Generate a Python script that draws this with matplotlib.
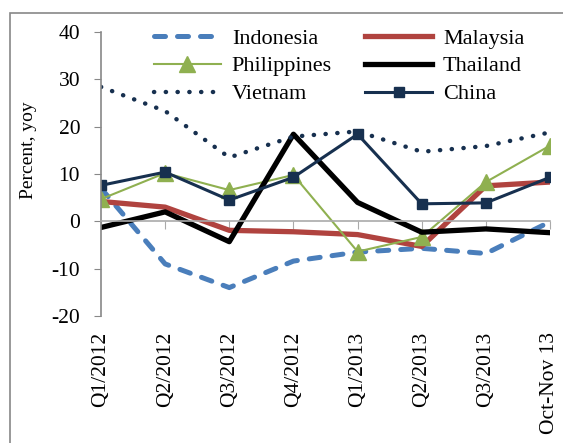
import matplotlib
matplotlib.use("Agg")
import matplotlib.pyplot as plt
from matplotlib.patches import Rectangle

categories = ["Q1/2012", "Q2/2012", "Q3/2012", "Q4/2012", "Q1/2013", "Q2/2013", "Q3/2013", "Oct-Nov 13"]
indonesia = [7.0, -9.0, -14.0, -8.4, -6.5, -5.7, -6.8, -0.1]
malaysia = [4.2, 3.0, -1.9, -2.2, -2.8, -5.3, 7.5, 8.3]
philippines = [4.7, 10.2, 6.6, 9.8, -6.4, -3.3, 8.3, 16.0]
thailand = [-1.3, 2.0, -4.3, 18.4, 4.0, -2.3, -1.6, -2.4]
vietnam = [28.4, 23.3, 13.5, 17.9, 19.0, 14.7, 15.9, 18.8]
china = [7.6, 10.4, 4.5, 9.3, 18.4, 3.7, 3.9, 9.3]
yticks = [-20, -10, 0, 10, 20, 30, 40]

plt.rcParams['font.family'] = ['Liberation Serif', 'DejaVu Serif']
plt.rcParams['axes.unicode_minus'] = False

W, H = 563, 443
fig = plt.figure(figsize=(W / 100, H / 100), dpi=100)
ax = fig.add_axes([101 / W, 1 - 316 / H, (550 - 101) / W, (316 - 32) / H])

# chart area border
fig.patches.append(Rectangle((10 / W, -0.1), 1.2, 1 - 13 / H + 0.1, transform=fig.transFigure,
                             fill=False, edgecolor='#888888', linewidth=1.2))

x = list(range(len(categories)))
ax.plot(x, indonesia, color='#4a7ebb', lw=3.6, ls=(0, (2.2, 2.4)), label='Indonesia',
        solid_capstyle='round', dash_capstyle='round')
ax.plot(x, malaysia, color='#b0433f', lw=3.8, label='Malaysia')
ax.plot(x, philippines, color='#8fb050', lw=1.5, marker='^', ms=12, label='Philippines')
ax.plot(x, thailand, color='black', lw=3.8, label='Thailand')
ax.plot(x, vietnam, color='#17304f', lw=3.2, ls=(0, (0.05, 2.6)), dash_capstyle='round', label='Vietnam')
ax.plot(x, china, color='#17304f', lw=2.2, marker='s', ms=7.5, label='China')

ax.set_xlim(0, len(categories) - 1)
ax.set_ylim(-20, 40)
ax.set_yticks(yticks)
ax.tick_params(axis='y', direction='out', length=5, color='#888888', labelsize=15.5, pad=10)

for s in ['top', 'right']:
    ax.spines[s].set_visible(False)
ax.spines['left'].set_color('#888888')
ax.spines['left'].set_linewidth(1.2)
ax.spines['bottom'].set_position(('data', 0))
ax.spines['bottom'].set_color('#aaaaaa')
ax.spines['bottom'].set_linewidth(1.2)
ax.set_xticks(x)
ax.tick_params(axis='x', direction='out', length=6, color='#aaaaaa', labelbottom=False)
for xi, lab in zip(x, categories):
    ax.text(xi, -23.3, lab, rotation=90, ha='center', va='top', fontsize=15.5)

ax.set_ylabel('Percent, yoy', fontsize=14)
ax.yaxis.set_label_coords(-0.1425, 0.585)

h, l = ax.get_legend_handles_labels()
order = [0, 2, 4, 1, 3, 5]
leg = fig.legend([h[i] for i in order], [l[i] for i in order], ncol=2, frameon=False,
                 loc='upper left', bbox_to_anchor=(154 / W, 1 - 28 / H), fontsize=16,
                 handlelength=3.0, columnspacing=1.5, labelspacing=0.33, handletextpad=0.5,
                 borderaxespad=0, borderpad=0)

fig.savefig('out.png', dpi=100)
